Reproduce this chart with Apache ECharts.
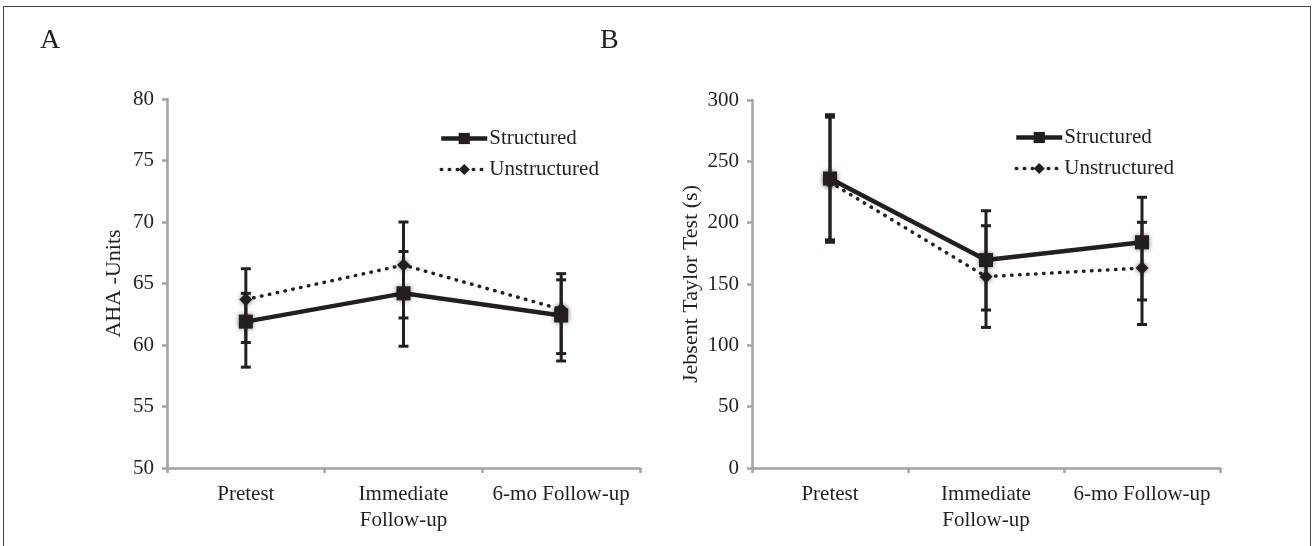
<!DOCTYPE html>
<html lang="en">
<head>
    <meta charset="UTF-8">
    <title>AHA and Jebsen Taylor</title>
    <script src="https://cdn.jsdelivr.net/npm/echarts@6/dist/echarts.min.js"></script>
    <style>
        * {padding: 0; margin: 0;}
        body {background: #fff;}
        #frame {position: absolute; left: 3px; top: 6px; width: 1306px; height: 560px; border: 1px solid #444; border-bottom: none;}
        #main {position: absolute; left: 0; top: 0; width: 1313px; height: 546px;}
    </style>
</head>
<body>
    <div id="frame"></div>
    <div id="main"></div>

    <script>
        const categories = ['Pretest', 'Immediate\nFollow-up', '6-mo Follow-up'];

        // panel A: AHA units
        const ahaStructured = [61.9, 64.2, 62.4];
        const ahaUnstructured = [63.7, 66.5, 62.9];
        const ahaStructuredErr = [[60.2, 64.2], [59.9, 70.0], [58.7, 65.8]];
        const ahaUnstructuredErr = [[58.2, 66.2], [62.2, 67.6], [59.3, 65.3]];

        // panel B: Jebsen Taylor test (s)
        const jttStructured = [236, 169.5, 184];
        const jttUnstructured = [233, 156, 163];
        const jttStructuredErr = [[184, 288], [114.6, 209.7], [117, 220.7]];
        const jttUnstructuredErr = [[186, 286], [128.8, 197.5], [137, 200.3]];

        const ink = '#231f20';
        const axisGray = '#a3a3a3';
        const serif = "'Liberation Serif', 'DejaVu Serif', serif";

        function errData(arr) {
            return arr.map(function (d, i) { return [i, d[0], d[1]]; });
        }

        function errorSeries(arr, axisIndex) {
            return {
                type: 'custom',
                xAxisIndex: axisIndex,
                yAxisIndex: axisIndex,
                z: 5,
                data: errData(arr),
                renderItem: function (params, api) {
                    const lo = api.coord([api.value(0), api.value(1)]);
                    const hi = api.coord([api.value(0), api.value(2)]);
                    const w = 5;
                    const style = {stroke: ink, lineWidth: 3};
                    return {
                        type: 'group',
                        children: [
                            {type: 'line', shape: {x1: lo[0], y1: lo[1], x2: hi[0], y2: hi[1]}, style: style},
                            {type: 'line', shape: {x1: lo[0] - w, y1: lo[1], x2: lo[0] + w, y2: lo[1]}, style: style},
                            {type: 'line', shape: {x1: hi[0] - w, y1: hi[1], x2: hi[0] + w, y2: hi[1]}, style: style}
                        ]
                    };
                }
            };
        }

        function structuredSeries(values, axisIndex) {
            return {
                name: 'Structured',
                type: 'line',
                xAxisIndex: axisIndex,
                yAxisIndex: axisIndex,
                data: values,
                symbol: 'rect',
                symbolSize: 14,
                z: 4,
                lineStyle: {color: ink, width: 4.5},
                itemStyle: {color: ink, shadowBlur: 5, shadowColor: 'rgba(0,0,0,0.55)'}
            };
        }

        function unstructuredSeries(values, axisIndex) {
            return {
                name: 'Unstructured',
                type: 'line',
                xAxisIndex: axisIndex,
                yAxisIndex: axisIndex,
                data: values,
                symbol: 'diamond',
                symbolSize: 13,
                z: 3,
                lineStyle: {color: ink, width: 3.5, type: [0.5, 7.5], cap: 'round'},
                itemStyle: {color: ink, shadowBlur: 5, shadowColor: 'rgba(0,0,0,0.55)'}
            };
        }

        function xAxis(gridIndex) {
            return {
                type: 'category',
                gridIndex: gridIndex,
                data: categories,
                boundaryGap: true,
                axisLine: {lineStyle: {color: axisGray, width: 2.5}},
                axisTick: {show: true, length: 5, lineStyle: {color: axisGray, width: 2.5}},
                axisLabel: {color: ink, fontFamily: serif, fontSize: 21, margin: 13, lineHeight: 26, interval: 0}
            };
        }

        function yAxis(gridIndex, min, max, interval, name, gap) {
            return {
                type: 'value',
                gridIndex: gridIndex,
                min: min,
                max: max,
                interval: interval,
                name: name,
                nameLocation: 'middle',
                nameGap: gap,
                nameTextStyle: {color: ink, fontFamily: serif, fontSize: 22},
                splitLine: {show: false},
                axisLine: {show: true, lineStyle: {color: axisGray, width: 2.5}},
                axisTick: {show: true, length: 5, lineStyle: {color: axisGray, width: 2.5}},
                axisLabel: {color: ink, fontFamily: serif, fontSize: 21, margin: 13}
            };
        }

        function legend(left, top) {
            return {
                orient: 'vertical',
                left: left,
                top: top,
                itemWidth: 46,
                itemHeight: 14,
                itemGap: 10,
                data: [
                    {name: 'Structured', lineStyle: {width: 4.5}},
                    {name: 'Unstructured', lineStyle: {width: 3.5}}
                ],
                textStyle: {color: ink, fontFamily: serif, fontSize: 21, padding: [0, 0, 0, -3]},
                selectedMode: false
            };
        }

        const chart = echarts.init(document.getElementById('main'));

        chart.setOption({
            animation: false,
            title: [
                {text: 'A', left: 35, top: 22, textStyle: {color: ink, fontFamily: serif, fontSize: 28, fontWeight: 'normal'}},
                {text: 'B', left: 595, top: 22, textStyle: {color: ink, fontFamily: serif, fontSize: 28, fontWeight: 'normal'}}
            ],
            legend: [legend(434, 123), legend(1009, 122)],
            grid: [
                {left: 167, top: 99, width: 473, height: 369},
                {left: 752, top: 100, width: 468, height: 368}
            ],
            xAxis: [xAxis(0), xAxis(1)],
            yAxis: [
                yAxis(0, 50, 80, 5, 'AHA -Units', 42),
                yAxis(1, 0, 300, 50, 'Jebsent Taylor Test (s)', 50)
            ],
            series: [
                structuredSeries(ahaStructured, 0),
                unstructuredSeries(ahaUnstructured, 0),
                errorSeries(ahaStructuredErr, 0),
                errorSeries(ahaUnstructuredErr, 0),
                structuredSeries(jttStructured, 1),
                unstructuredSeries(jttUnstructured, 1),
                errorSeries(jttStructuredErr, 1),
                errorSeries(jttUnstructuredErr, 1)
            ]
        });
    </script>
</body>
</html>
